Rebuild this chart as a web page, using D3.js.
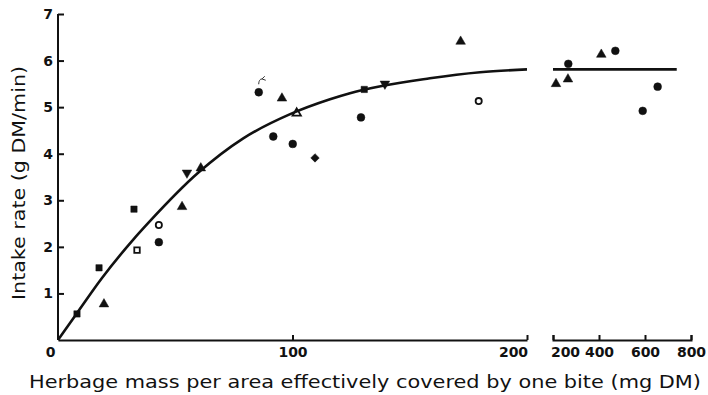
<!DOCTYPE html>
<html>
<head>
<meta charset="utf-8">
<script src="https://cdn.jsdelivr.net/npm/d3@7"></script>
<style>
  html, body { margin: 0; padding: 0; background: #fff; }
  svg { display: block; }
  .tick text { font-family: "DejaVu Sans", sans-serif; font-weight: bold; font-size: 14px; fill: #111; }
  .domain, .tick line { stroke: #111; stroke-width: 2; }
</style>
</head>
<body>
<svg id="chart" width="708" height="395"></svg>
<script>
// Observations: herbage mass per bite area (mg DM) and intake rate (g DM/min)
const herbageMass = [8.1, 17.5, 19.6, 32.4, 33.7, 43, 43, 52.9, 55, 60.9,
                     85.6, 95.5, 101.8, 91.8, 100.1, 109.6, 130.6, 139.4, 129.2, 171.7, 179.4,
                     213, 265, 266.5, 410, 471, 590, 655];
const intakeRate = [0.56, 1.55, 0.77, 2.81, 1.93, 2.47, 2.1, 2.86, 3.59, 3.69,
                    5.32, 5.19, 4.87, 4.37, 4.21, 3.91, 5.38, 5.50, 4.78, 6.41, 5.13,
                    5.50, 5.60, 5.93, 6.13, 6.21, 4.92, 5.44];
const markerShape = ["square", "square", "triangle", "square", "squareOpen", "circleOpen", "circle", "triangle", "triangleDown", "triangle",
                     "circle", "triangle", "triangleOpen", "circle", "circle", "diamond", "square", "triangleDown", "circle", "triangle", "circleOpen",
                     "triangle", "triangle", "circle", "triangle", "circle", "circle", "circle"];

// Fitted response curve (left panel) and plateau (right panel)
const curveMass = [0, 8, 18.6, 32, 39, 60, 79, 99, 116, 124.5, 158.6, 180, 200];
const curveIntake = [0, 0.57, 1.32, 2.15, 2.54, 3.6, 4.33, 4.85, 5.17, 5.3, 5.62, 5.75, 5.81];
const plateauMass = [200, 738];
const plateauIntake = [5.81, 5.81];

const yTicks = [1, 2, 3, 4, 5, 6, 7];
const xTicksLeft = [0, 100, 200];
const xTicksRight = [200, 400, 600, 800];

const svg = d3.select("#chart");
const xLeft = d3.scaleLinear().domain([0, 200]).range([58, 527]);
const xRight = d3.scaleLinear().domain([200, 800]).range([553, 691]);
const y = d3.scaleLinear().domain([0, 7]).range([340, 14]);
const xOf = v => v > 200 ? xRight(v) : xLeft(v);

// Y axis, ticks pointing inward
const gy = svg.append("g").attr("transform", `translate(${xLeft(0)},0)`)
  .call(d3.axisLeft(y).tickValues(yTicks).tickSizeInner(-6).tickSizeOuter(0).tickPadding(5).tickFormat(d3.format("d")));
gy.select(".domain").attr("d", `M0,${y(0)}V${y(7)}`);

// Left x axis
const gxl = svg.append("g").attr("transform", `translate(0,${y(0)})`)
  .call(d3.axisBottom(xLeft).tickValues(xTicksLeft).tickSizeInner(-5).tickSizeOuter(0).tickPadding(7).tickFormat(d3.format("d")));
gxl.selectAll(".tick").filter(d => d === 0).select("line").remove();
gxl.selectAll(".tick").filter(d => d === 0).select("text").attr("dx", -8);
gxl.selectAll(".tick").filter(d => d === 200).select("text").attr("dx", -14);

// Right x axis (broken scale)
const gxr = svg.append("g").attr("transform", `translate(0,${y(0)})`)
  .call(d3.axisBottom(xRight).tickValues(xTicksRight).tickSizeInner(-5).tickSizeOuter(-5).tickPadding(7).tickFormat(d3.format("d")));
gxr.selectAll(".tick").filter(d => d === 200).select("text").attr("dx", 12);

// Axis titles
svg.append("text")
  .attr("x", 365).attr("y", 388)
  .attr("text-anchor", "middle")
  .attr("textLength", 672).attr("lengthAdjust", "spacingAndGlyphs")
  .style("font-family", "DejaVu Sans, sans-serif").style("font-size", "18px").style("fill", "#111")
  .text("Herbage mass per area effectively covered by one bite (mg DM)");
svg.append("text")
  .attr("transform", "translate(25,183) rotate(-90)")
  .attr("text-anchor", "middle")
  .attr("textLength", 234).attr("lengthAdjust", "spacingAndGlyphs")
  .style("font-family", "DejaVu Sans, sans-serif").style("font-size", "18px").style("fill", "#111")
  .text("Intake rate (g DM/min)");

// Markers
const shapes = {
  circle: { type: d3.symbolCircle, size: 48, open: false },
  circleOpen: { type: d3.symbolCircle, size: 30, open: true },
  square: { type: d3.symbolSquare, size: 40, open: false },
  squareOpen: { type: d3.symbolSquare, size: 30, open: true },
  triangle: { type: d3.symbolTriangle, size: 40, open: false },
  triangleOpen: { type: d3.symbolTriangle, size: 30, open: true },
  triangleDown: { type: d3.symbolTriangle, size: 40, open: false, rot: 180 },
  diamond: { type: d3.symbolSquare, size: 36, open: false, rot: 45 }
};
svg.append("g").selectAll("path")
  .data(herbageMass.map((m, i) => ({ m, v: intakeRate[i], s: shapes[markerShape[i]] })))
  .join("path")
  .attr("transform", d => `translate(${xOf(d.m)},${y(d.v)}) rotate(${d.s.rot || 0})`)
  .attr("d", d => d3.symbol(d.s.type, d.s.size)())
  .attr("fill", d => d.s.open ? "#fff" : "#111")
  .attr("stroke", "#111")
  .attr("stroke-width", d => d.s.open ? 1.8 : 0.5);

// Response curve
const line = d3.line().curve(d3.curveMonotoneX);
svg.append("path")
  .attr("d", line(curveMass.map((m, i) => [xLeft(m), y(curveIntake[i])])))
  .attr("fill", "none").attr("stroke", "#111").attr("stroke-width", 2.6);
svg.append("path")
  .attr("d", d3.line()(plateauMass.map((m, i) => [xRight(m), y(plateauIntake[i])])))
  .attr("fill", "none").attr("stroke", "#111").attr("stroke-width", 2.6);

// Small hand-drawn flag above one observation
const flagged = 10;
svg.append("path")
  .attr("transform", `translate(${xOf(herbageMass[flagged])},${y(intakeRate[flagged])})`)
  .attr("d", "M0,-8 C0,-12 2,-14 4,-13 L7,-12 M3,-13 L6,-16")
  .attr("fill", "none").attr("stroke", "#333").attr("stroke-width", 1);
</script>
</body>
</html>
